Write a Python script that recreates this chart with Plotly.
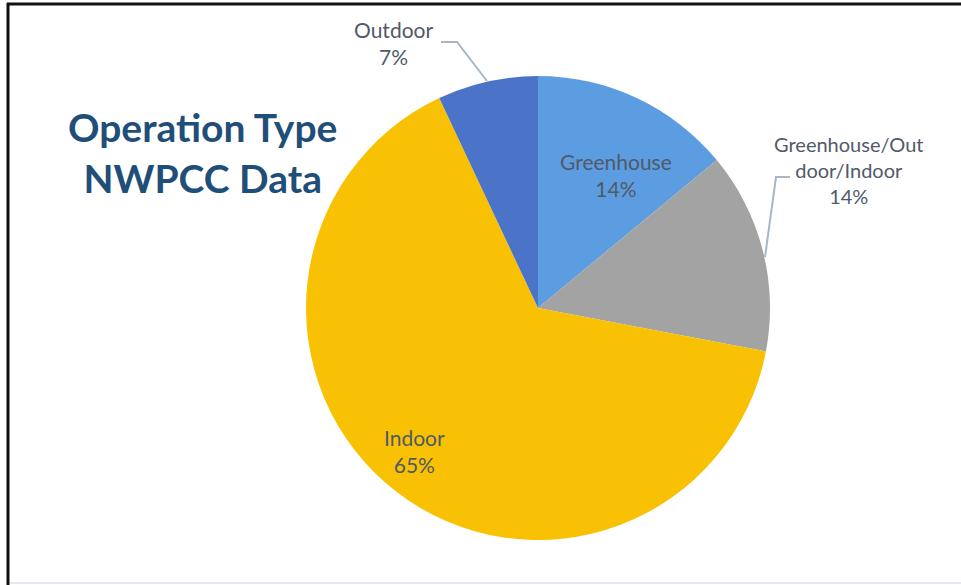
import plotly.graph_objects as go

categories = ["Greenhouse", "Greenhouse/Outdoor/Indoor", "Indoor", "Outdoor"]
label_lines = ["Greenhouse", "Greenhouse/Out<br>door/Indoor", "Indoor", "Outdoor"]
values = [14, 14, 65, 7]
colors = ["#5b9de0", "#a3a3a3", "#f9c103", "#4b74c9"]

W, H = 961, 585
total = sum(values)
pct = [f"{round(v / total * 100)}%" for v in values]

# pie geometry (pixels)
cx, cy, r = 538, 308, 232

fig = go.Figure(go.Pie(
    labels=categories,
    values=values,
    sort=False,
    direction="clockwise",
    rotation=0,
    marker=dict(colors=colors, line=dict(width=0)),
    textinfo="none",
    hoverinfo="label+percent",
    showlegend=False,
    domain=dict(x=[(cx - r) / W, (cx + r) / W], y=[(H - cy - r) / H, (H - cy + r) / H]),
))

def px(x):
    return x / W

def py(y):
    return 1 - y / H

# label anchor positions (pixels, centre of text block)
label_pos = [(616, 175), (849, 170), (414, 451), (393, 43)]
label_sizes = [21, 20, 21, 21]
for name, p, (x, y), s in zip(label_lines, pct, label_pos, label_sizes):
    fig.add_annotation(x=px(x), y=py(y), xref="paper", yref="paper",
                       text=f"{name}<br>{p}", showarrow=False,
                       font=dict(family="Lato, 'Open Sans', sans-serif", size=s, color="#505a68"),
                       align="center", xanchor="center", yanchor="middle")

# leader lines
leaders = [
    [(441, 42), (457, 42), (487, 81)],
    [(790, 177), (776, 177), (765, 257)],
]
for pts in leaders:
    path = "M " + " L ".join(f"{px(x)},{py(y)}" for x, y in pts)
    fig.add_shape(type="path", path=path, xref="paper", yref="paper",
                  line=dict(color="#a9b6c6", width=2))

# title
fig.add_annotation(x=px(202), y=py(153), xref="paper", yref="paper",
                   text="<b>Operation Type<br>NWPCC Data</b>", showarrow=False,
                   font=dict(family="Lato, 'Open Sans', sans-serif", size=39, color="#1f4e79"),
                   align="center", xanchor="center", yanchor="middle")

# frame lines
fig.add_shape(type="line", xref="paper", yref="paper", x0=px(7), x1=1, y0=py(4), y1=py(4),
              line=dict(color="#111111", width=3))
fig.add_shape(type="line", xref="paper", yref="paper", x0=px(8), x1=px(8), y0=py(3), y1=0,
              line=dict(color="#111111", width=3))
fig.add_shape(type="line", xref="paper", yref="paper", x0=px(10), x1=1, y0=py(583), y1=py(583),
              line=dict(color="#e3e8f0", width=2))

fig.update_layout(
    width=W, height=H,
    margin=dict(l=0, r=0, t=0, b=0),
    paper_bgcolor="white",
    plot_bgcolor="white",
)

fig.write_html("out.html")
